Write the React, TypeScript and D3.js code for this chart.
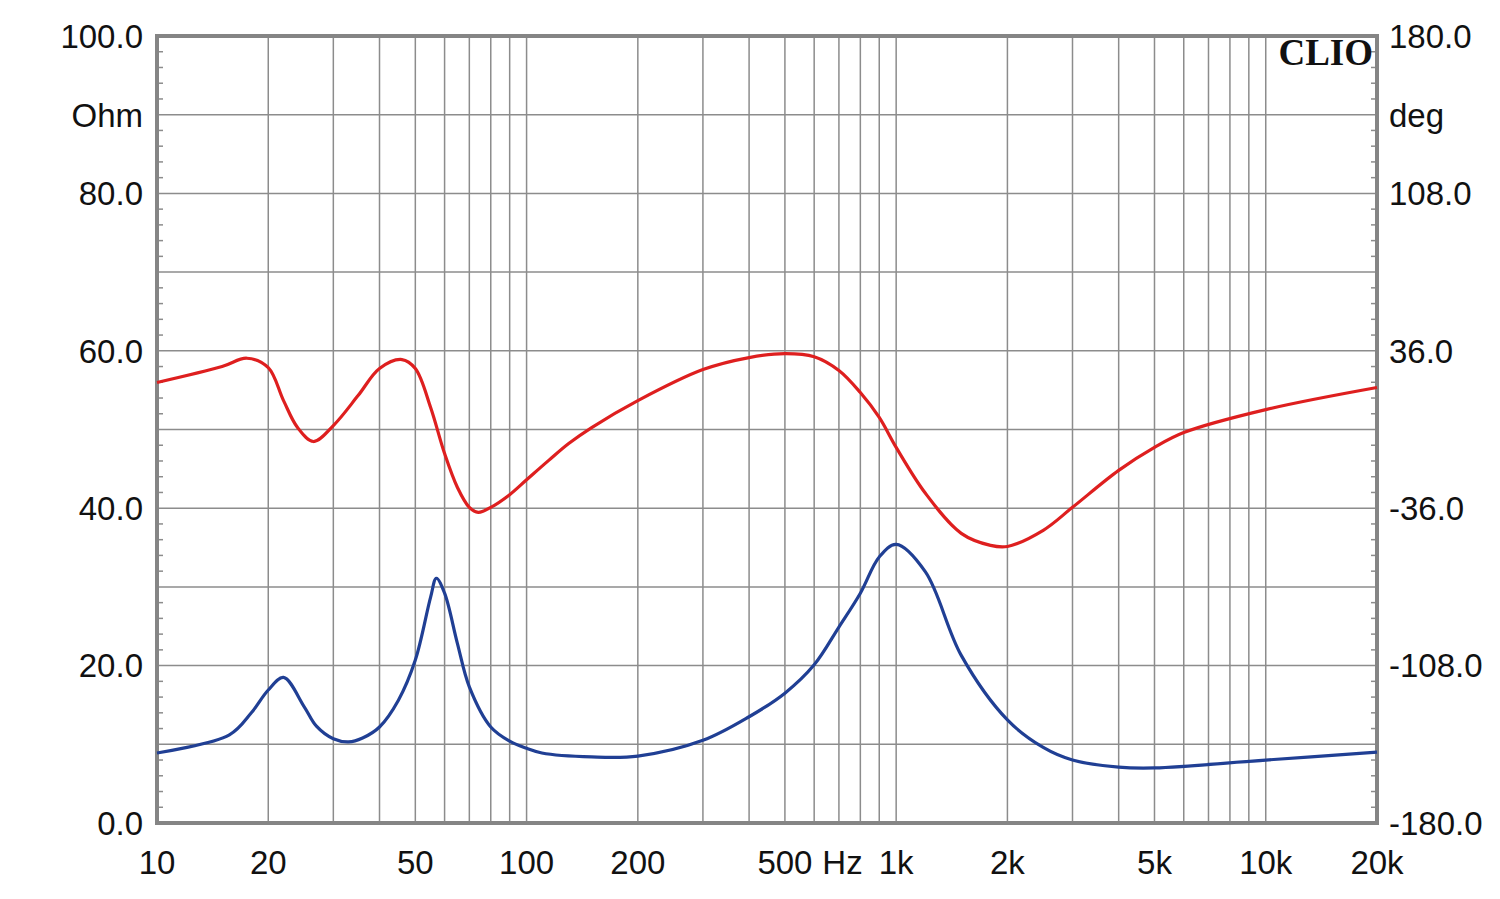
import React from "react";
import * as d3 from "d3";

const freqRed = [10, 15, 17.5, 20, 22, 24, 26.5, 30, 35, 40, 46, 50, 55, 60, 65, 70, 74, 80, 90, 100, 115, 130, 150, 200, 300, 400, 500, 600, 700, 800, 900, 1000, 1200, 1500, 1800, 2000, 2500, 3000, 4000, 5000, 6000, 10000, 20000];
const phaseDeg = [21.5, 28.8, 32.6, 28.3, 13.2, 0.9, -5.5, 1.8, 15.5, 27.9, 32.0, 27.9, 10.1, -11.0, -26.5, -35.6, -37.9, -35.6, -29.8, -23.0, -14.0, -6.4, 0.9, 13.2, 27.4, 32.9, 34.7, 33.3, 27.0, 16.9, 5.5, -8.2, -29.2, -47.5, -53.0, -53.5, -46.1, -35.6, -18.7, -8.2, -1.4, 9.1, 19.2];

const freqBlue = [10, 15.7, 18, 20, 22, 25, 27, 30, 33, 36, 40, 45, 50, 55, 57, 60, 65, 70, 80, 90, 100, 110, 150, 200, 300, 400, 500, 600, 700, 800, 900, 1000, 1200, 1500, 2000, 2500, 3000, 4000, 5000, 10000, 20000];
const impedanceOhm = [8.9, 11.2, 14.0, 16.9, 18.5, 14.8, 12.3, 10.7, 10.3, 10.8, 12.2, 15.6, 20.7, 28.7, 31.1, 29.2, 22.8, 17.3, 12.2, 10.4, 9.5, 8.9, 8.4, 8.5, 10.5, 13.5, 16.5, 20.1, 24.9, 29.2, 33.8, 35.4, 31.9, 21.3, 13.1, 9.6, 8.0, 7.1, 7.0, 8.0, 9.0];

const xTickValues = [10, 20, 50, 100, 200, 500, 1000, 2000, 5000, 10000, 20000];
const xTickLabels = ["10", "20", "50", "100", "200", "500", "1k", "2k", "5k", "10k", "20k"];
const leftTickValues = [100, 80, 60, 40, 20, 0];
const leftTickLabels = ["100.0", "80.0", "60.0", "40.0", "20.0", "0.0"];
const rightTickValues = [180, 108, 36, -36, -108, -180];
const rightTickLabels = ["180.0", "108.0", "36.0", "-36.0", "-108.0", "-180.0"];

const W = 1500, H = 899;
const L = 157, R = 1377, T = 36, B = 823;

export default function App() {
  const x = d3.scaleLog().domain([10, 20000]).range([L, R]);
  const yL = d3.scaleLinear().domain([0, 100]).range([B, T]);
  const yR = d3.scaleLinear().domain([-180, 180]).range([B, T]);

  const gridX: number[] = [];
  for (let dec = 10; dec <= 10000; dec *= 10) {
    for (let m = 1; m <= 9; m++) {
      const f = dec * m;
      if (f > 10 && f < 20000) gridX.push(f);
    }
  }
  const gridY = d3.range(10, 100, 10);
  const minorY = d3.range(0, 100, 2).filter((v) => v % 10 !== 0);

  const redLine = d3
    .line<number>()
    .x((_, i) => x(freqRed[i]))
    .y((d) => yR(d))
    .curve(d3.curveCatmullRom.alpha(0.5))(phaseDeg);
  const blueLine = d3
    .line<number>()
    .x((_, i) => x(freqBlue[i]))
    .y((d) => yL(d))
    .curve(d3.curveCatmullRom.alpha(0.5))(impedanceOhm);

  const font = "'Liberation Sans', Arial, sans-serif";
  const gridColor = "#8c8c8c";
  const fs = 33;

  return (
    <svg width={W} height={H} style={{ position: "absolute", left: 0, top: 0, background: "#fff" }}>
      <rect x={0} y={0} width={W} height={H} fill="#fff" />
      {gridX.map((f) => (
        <line key={"gx" + f} x1={x(f)} x2={x(f)} y1={T} y2={B} stroke={gridColor} strokeWidth={1.5} />
      ))}
      {gridY.map((v) => (
        <line key={"gy" + v} x1={L} x2={R} y1={yL(v)} y2={yL(v)} stroke={gridColor} strokeWidth={1.5} />
      ))}
      {minorY.map((v) => (
        <g key={"mt" + v}>
          <line x1={L} x2={L + 6} y1={yL(v)} y2={yL(v)} stroke={gridColor} strokeWidth={1.5} />
          <line x1={R - 6} x2={R} y1={yL(v)} y2={yL(v)} stroke={gridColor} strokeWidth={1.5} />
        </g>
      ))}
      <rect x={L} y={T} width={R - L} height={B - T} fill="none" stroke="#858585" strokeWidth={4} />

      <path d={redLine || ""} fill="none" stroke="#de1f1f" strokeWidth={3.2} strokeLinejoin="round" />
      <path d={blueLine || ""} fill="none" stroke="#203f94" strokeWidth={3.2} strokeLinejoin="round" />

      <text x={R - 4} y={65} textAnchor="end" fontFamily="'Liberation Serif', 'DejaVu Serif', serif" fontWeight="bold" fontSize={37} fill="#111">CLIO</text>

      {leftTickValues.map((v, i) => (
        <text key={"lt" + v} x={143} y={yL(v)} dy="0.36em" textAnchor="end" fontFamily={font} fontSize={fs} fill="#111">{leftTickLabels[i]}</text>
      ))}
      <text x={143} y={yL(90)} dy="0.36em" textAnchor="end" fontFamily={font} fontSize={fs} fill="#111">Ohm</text>

      {rightTickValues.map((v, i) => (
        <text key={"rt" + v} x={1389} y={yR(v)} dy="0.36em" textAnchor="start" fontFamily={font} fontSize={fs} fill="#111">{rightTickLabels[i]}</text>
      ))}
      <text x={1389} y={yL(90)} dy="0.36em" textAnchor="start" fontFamily={font} fontSize={fs} fill="#111">deg</text>

      {xTickValues.map((f, i) => (
        <text key={"xt" + f} x={x(f)} y={874} textAnchor="middle" fontFamily={font} fontSize={fs} fill="#111">{xTickLabels[i]}</text>
      ))}
      <text x={(x(500) + x(1000)) / 2 + 2} y={874} textAnchor="middle" fontFamily={font} fontSize={fs} fill="#111">Hz</text>
    </svg>
  );
}
